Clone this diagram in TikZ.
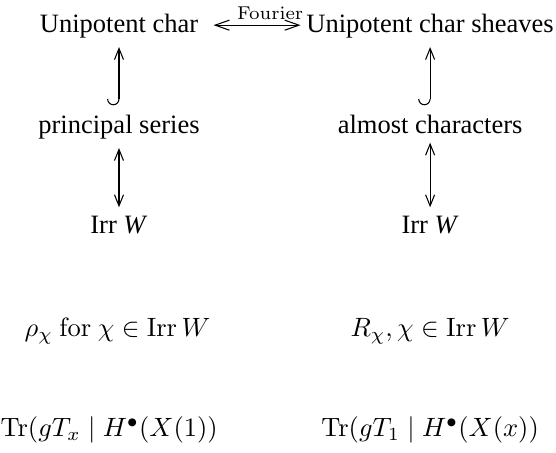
\documentclass[tikz,border=0pt]{standalone}
\usepackage{amsmath}
\usepackage[no-math]{fontspec}
\setmainfont{Liberation Serif}
\usetikzlibrary{arrows.meta,positioning,calc}

\begin{document}
\begin{tikzpicture}[x=1pt,y=1pt,lbl/.style={anchor=base,inner sep=3.33pt,font=\normalsize},dbl/.style={{Straight Barb[length=4.2pt,width=3.4pt]}-{Straight Barb[length=4.2pt,width=3.4pt]}},hook/.style={{Hooks[right,width=9pt,length=2.4pt]}-{Straight Barb[length=4.2pt,width=3.4pt]}}]
\useasboundingbox (0,0) rectangle (209.8,-170.6);
\node[lbl] (uc) at (44.9,-12.1) {Unipotent char};
\node[lbl] (ucs) at (162.3,-12.1) {Unipotent char sheaves};
\node[lbl] (ps) at (44.9,-50.2) {principal series};
\node[lbl] (ac) at (162.3,-50.2) {almost characters};
\node[lbl] (irrl) at (44.9,-88.3) {Irr \textit{W}};
\node[lbl] (irrr) at (162.3,-88.3) {Irr \textit{W}};
\node[lbl] (rho) at (44.3,-126.8) {$\rho_\chi\ \mathrm{for}\ \chi \in \operatorname{Irr} W$};
\node[lbl] (rchi) at (162.3,-126.8) {$R_\chi, \chi \in \operatorname{Irr} W$};
\node[lbl] (trl) at (41.2,-164.9) {$\operatorname{Tr}(gT_x \mid H^\bullet(X(1))$};
\node[lbl] (trr) at (162.3,-164.9) {$\operatorname{Tr}(gT_1 \mid H^\bullet(X(x))$};
\draw[{Straight Barb[length=5.4pt,width=3.8pt]}-{Straight Barb[length=5.4pt,width=3.8pt]},shorten <=2.3pt,shorten >=-1.3pt] ([yshift=2.6pt]uc.base east)--node[above,pos=0.7,inner sep=2pt,font=\scriptsize]{$\mathrm{Fourier}$}([yshift=2.6pt]ucs.base west);
\draw[hook] (ps.north)--(uc.south);
\draw[hook] (ac.north)--(ucs.south);
\draw[dbl] (irrl.north)--(ps.south);
\draw[dbl] (irrr.north)--(ac.south);
\end{tikzpicture}
\end{document}
